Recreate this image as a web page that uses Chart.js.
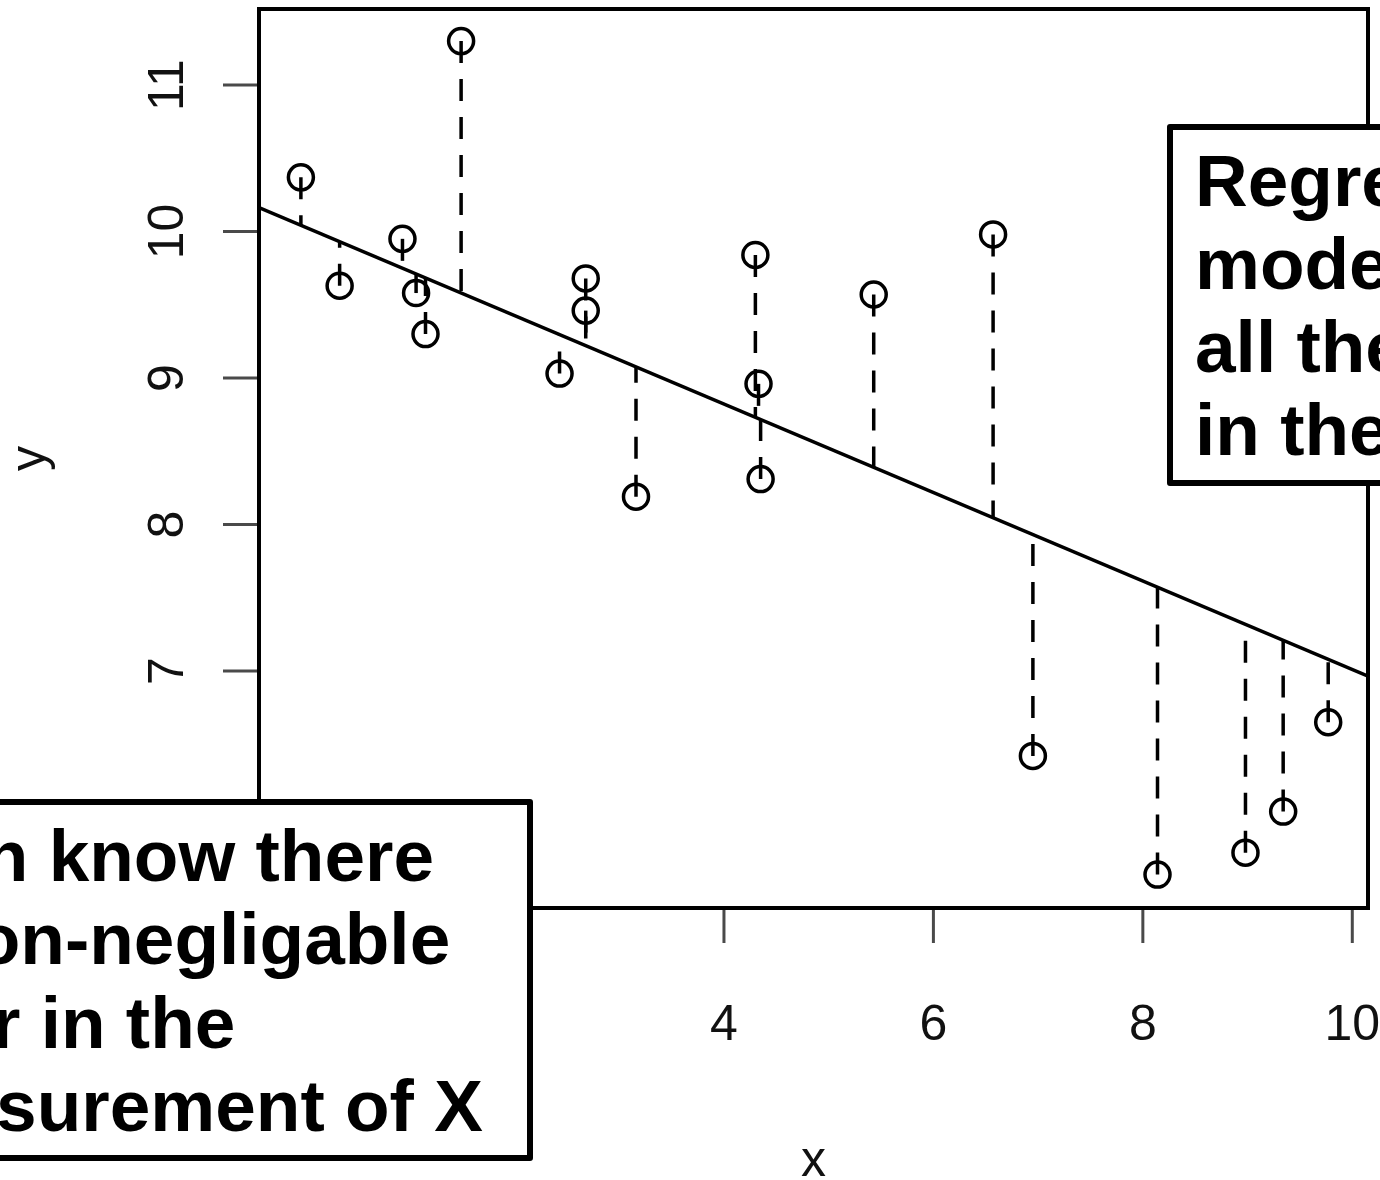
<!DOCTYPE html>
<html>
<head>
<meta charset="utf-8">
<script src="https://cdn.jsdelivr.net/npm/chart.js@4.4.1/dist/chart.umd.min.js"></script>
<style>
  html, body { margin: 0; padding: 0; background: #fff; }
  canvas { display: block; }
</style>
</head>
<body>
<canvas id="chartResiduos" width="1380" height="1180"></canvas>
<script>
// Dados
const xs = [-0.04, 0.33, 0.93, 1.06, 1.15, 1.49, 2.43, 2.68, 2.68, 3.16,
            4.30, 4.33, 4.35, 5.43, 6.57, 6.95, 8.14, 8.98, 9.34, 9.77];
const ys = [10.37, 9.63, 9.95, 9.58, 9.30, 11.30, 9.03, 9.68, 9.46, 8.19,
            9.84, 8.96, 8.31, 9.57, 9.98, 6.42, 5.61, 5.76, 6.04, 6.65];

// Reta de regressão
const fitIntercept = 10.03;
const fitSlope = -0.302;

const xTicks = [0, 2, 4, 6, 8, 10];
const yTicks = [6, 7, 8, 9, 10, 11];
const xLabel = "x";
const yLabel = "y";

const noteRight = ["Regression", "model puts", "all the error", "in the Y"];
const noteLeft = ["often know there", "is non-negligable", "error in the", "measurement of X"];

const fonte = "'Liberation Sans', Arial, Helvetica, sans-serif";

// Plugin para desenhar no estilo do R
const estiloR = {
  id: "estiloR",
  afterDatasetsDraw(chart) {
    const { ctx, chartArea: a, scales } = chart;
    const sx = scales.x, sy = scales.y;
    ctx.save();
    ctx.beginPath();
    ctx.rect(a.left, a.top, a.right - a.left, a.bottom - a.top);
    ctx.clip();
    ctx.strokeStyle = "#000";
    ctx.lineWidth = 3.5;

    // resíduos tracejados
    ctx.setLineDash([22, 16]);
    xs.forEach((x, i) => {
      const px = sx.getPixelForValue(x);
      ctx.beginPath();
      ctx.moveTo(px, sy.getPixelForValue(ys[i]));
      ctx.lineTo(px, sy.getPixelForValue(fitIntercept + fitSlope * x));
      ctx.stroke();
    });
    ctx.setLineDash([]);

    // reta ajustada
    ctx.lineWidth = 3.5;
    ctx.beginPath();
    ctx.moveTo(sx.getPixelForValue(sx.min), sy.getPixelForValue(fitIntercept + fitSlope * sx.min));
    ctx.lineTo(sx.getPixelForValue(sx.max), sy.getPixelForValue(fitIntercept + fitSlope * sx.max));
    ctx.stroke();
    ctx.restore();
  },
  afterDraw(chart) {
    const { ctx, chartArea: a, scales } = chart;
    const sx = scales.x, sy = scales.y;
    ctx.save();

    // marcas dos eixos
    ctx.strokeStyle = "#4a4a4a";
    ctx.lineWidth = 3;
    xTicks.forEach((t) => {
      const px = sx.getPixelForValue(t);
      ctx.beginPath();
      ctx.moveTo(px, a.bottom);
      ctx.lineTo(px, a.bottom + 35);
      ctx.stroke();
    });
    yTicks.forEach((t) => {
      const py = sy.getPixelForValue(t);
      ctx.beginPath();
      ctx.moveTo(a.left, py);
      ctx.lineTo(a.left - 36, py);
      ctx.stroke();
    });

    // rótulos
    ctx.fillStyle = "#111";
    ctx.font = "50px " + fonte;
    ctx.textAlign = "center";
    ctx.textBaseline = "alphabetic";
    xTicks.forEach((t) => {
      ctx.fillText(String(t), sx.getPixelForValue(t), 1040);
    });
    yTicks.forEach((t) => {
      ctx.save();
      ctx.translate(183, sy.getPixelForValue(t));
      ctx.rotate(-Math.PI / 2);
      ctx.fillText(String(t), 0, 0);
      ctx.restore();
    });
    ctx.fillText(xLabel, (a.left + a.right) / 2, 1176);
    ctx.save();
    ctx.translate(45, (a.top + a.bottom) / 2);
    ctx.rotate(-Math.PI / 2);
    ctx.fillText(yLabel, 0, 0);
    ctx.restore();

    // moldura
    ctx.strokeStyle = "#000";
    ctx.lineWidth = 4;
    ctx.strokeRect(a.left, a.top, a.right - a.left, a.bottom - a.top);

    // caixas de texto
    ctx.lineWidth = 6;
    ctx.lineJoin = "round";
    ctx.font = "bold 73px " + fonte;
    ctx.textAlign = "left";

    ctx.fillStyle = "#fff";
    ctx.fillRect(1170, 127, 260, 356);
    ctx.strokeRect(1170, 127, 260, 356);
    ctx.fillStyle = "#000";
    noteRight.forEach((s, i) => ctx.fillText(s, 1195, 205.5 + i * 83));

    ctx.fillStyle = "#fff";
    ctx.fillRect(-40, 802, 570, 356);
    ctx.strokeRect(-40, 802, 570, 356);
    ctx.fillStyle = "#000";
    noteLeft.forEach((s, i) => ctx.fillText(s, -150, 880.5 + i * 83.5));

    ctx.restore();
  },
};

const ctxR = document.getElementById("chartResiduos");

new Chart(ctxR, {
  type: "scatter",
  data: {
    datasets: [
      {
        label: "y",
        data: xs.map((x, i) => ({ x: x, y: ys[i] })),
        pointStyle: "circle",
        pointRadius: 12.5,
        pointBorderWidth: 3.5,
        pointBorderColor: "#000",
        pointBackgroundColor: "rgba(0,0,0,0)",
        pointHoverRadius: 12.5,
      },
    ],
  },
  options: {
    responsive: false,
    animation: false,
    events: [],
    layout: {
      autoPadding: false,
      padding: { left: 259, top: 9, right: 12, bottom: 272 },
    },
    scales: {
      x: { type: "linear", display: false, min: -0.44, max: 10.15 },
      y: { type: "linear", display: false, min: 5.382, max: 11.519 },
    },
    plugins: {
      legend: { display: false },
      tooltip: { enabled: false },
    },
  },
  plugins: [estiloR],
});
</script>
</body>
</html>
